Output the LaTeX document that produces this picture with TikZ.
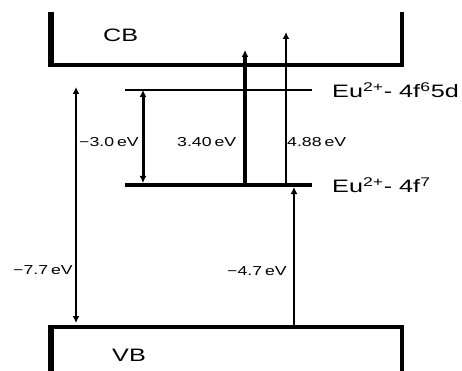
\documentclass[tikz,border=0pt]{standalone}
\usepackage{fontspec}
\setmainfont{Liberation Sans}
\usetikzlibrary{arrows.meta}
\tikzset{
  big/.style={inner sep=0pt,font=\fontsize{18}{20}\selectfont},
  small/.style={inner sep=0pt,font=\fontsize{13}{15}\selectfont},
  tip/.style={-{Latex[length=7pt,width=7pt]}},
  dtip/.style={{Latex[length=7pt,width=7pt]}-{Latex[length=7pt,width=7pt]}},
}
\newcommand{\wide}[1]{\scalebox{1.4}[1]{#1}}
\newcommand{\swide}[1]{\scalebox{1.36}[1]{#1}}
\begin{document}
\begin{tikzpicture}[x=1pt,y=-1pt]
\useasboundingbox (0,0) rectangle (462,371);
% CB
\coordinate (cbtl) at (51,12);
\coordinate (cbbl) at (51,65);
\coordinate (cbbr) at (402,65);
\coordinate (cbtr) at (402,12);
\draw[line width=6pt] (cbtl) -- ([yshift=2pt]cbbl);
\draw[line width=4pt] ([xshift=-3pt]cbbl) -- ([xshift=2pt]cbbr);
\draw[line width=4pt] (cbtr) -- (cbbr);
\node[big,anchor=west] (cb) at (103,35) {\wide{CB}};
% VB
\coordinate (vbtl) at (51,327);
\coordinate (vbbl) at (51,371);
\coordinate (vbtr) at (402,327);
\coordinate (vbbr) at (402,371);
\draw[line width=6pt] ([yshift=-2pt]vbtl) -- (vbbl);
\draw[line width=4pt] ([xshift=-3pt]vbtl) -- ([xshift=2pt]vbtr);
\draw[line width=4pt] (vbtr) -- (vbbr);
\node[big,anchor=west] (vb) at (112,355) {\wide{VB}};
% levels
\coordinate (d1) at (125,90);
\coordinate (d2) at (312,90);
\coordinate (f1) at (125,185);
\coordinate (f2) at (312,185);
\draw[line width=1.3pt] (d1) -- (d2);
\draw[line width=4pt] (f1) -- (f2);
\node[big,anchor=west] (l5d) at (332,90) {\wide{Eu\textsuperscript{2+}- 4f\textsuperscript{6}5d}};
\node[big,anchor=west] (l4f) at (332,185) {\wide{Eu\textsuperscript{2+}- 4f\textsuperscript{7}}};
% arrows
\coordinate (a1t) at (143,90);
\coordinate (a1b) at (143,183);
\draw[line width=3pt,dtip] (a1b) -- (a1t);
\coordinate (a2b) at (245,185);
\coordinate (a2t) at (245,50);
\draw[line width=4pt,tip] (a2b) -- (a2t);
\coordinate (a3b) at (286,185);
\coordinate (a3t) at (286,32);
\draw[line width=1.5pt,tip] (a3b) -- (a3t);
\coordinate (a4t) at (76,87);
\coordinate (a4b) at (76,323);
\draw[line width=1.5pt,dtip] (a4b) -- (a4t);
\coordinate (a5b) at (294,325);
\coordinate (a5t) at (294,187);
\draw[line width=1.5pt,tip] (a5b) -- (a5t);
% labels
\node[small,anchor=west] (t30) at (79,142) {\swide{−3.0\,eV}};
\node[small,anchor=west] (t340) at (177,142) {\swide{3.40\,eV}};
\node[small,anchor=west] (t488) at (287,142) {\swide{4.88\,eV}};
\node[small,anchor=west] (t77) at (13,270) {\swide{−7.7\,eV}};
\node[small,anchor=west] (t47) at (227,271) {\swide{−4.7\,eV}};
\end{tikzpicture}
\end{document}
